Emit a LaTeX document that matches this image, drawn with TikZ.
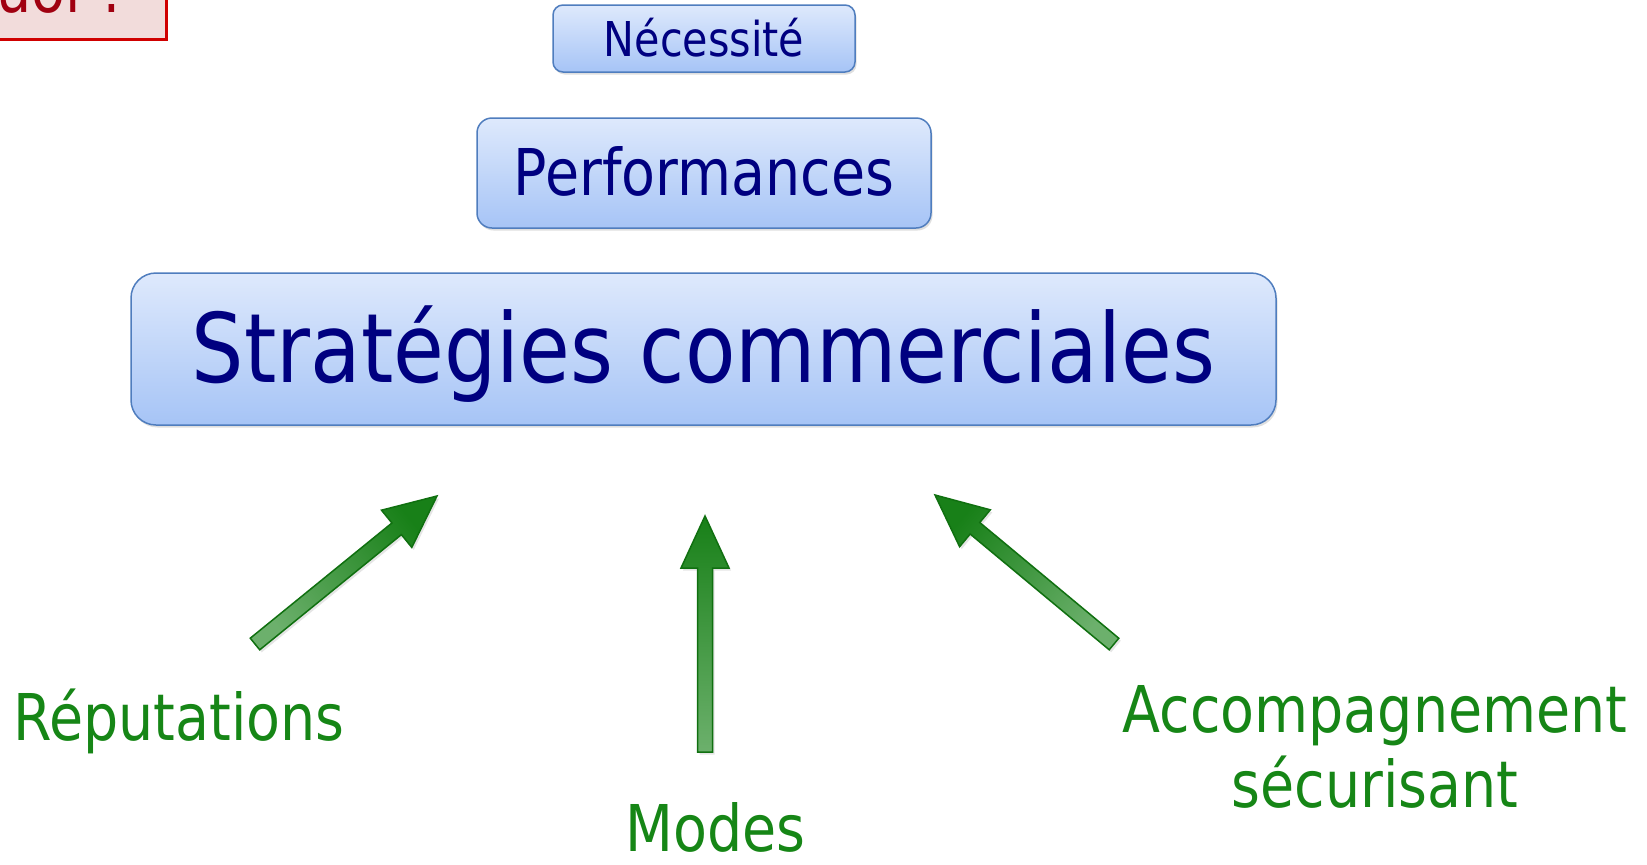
\documentclass[tikz,border=0pt]{standalone}
\usepackage{fontspec}
\setmainfont{DejaVu Sans}[FakeStretch=0.86]
\usetikzlibrary{calc,shadows}
\definecolor{navy}{RGB}{0,0,128}
\definecolor{boxtop}{RGB}{222,233,252}
\definecolor{boxbot}{RGB}{166,196,246}
\definecolor{boxline}{RGB}{79,125,190}
\definecolor{lblgreen}{RGB}{22,134,22}
\definecolor{arrdark}{RGB}{24,128,24}
\definecolor{arrlight}{RGB}{108,176,108}
\definecolor{arrline}{RGB}{16,112,16}
\definecolor{titlefill}{RGB}{242,220,219}
\definecolor{titleline}{RGB}{208,0,0}
\definecolor{titletext}{RGB}{160,0,16}
\tikzset{
  bluebox/.style={draw=boxline, line width=1.5pt, top color=boxtop, bottom color=boxbot,
    text=navy, inner sep=0pt,
    drop shadow={opacity=0.25, shadow xshift=1.5pt, shadow yshift=-2.5pt}},
  lbl/.style={text=lblgreen, inner sep=0pt, font=\fontsize{64.5}{75}\selectfont},
  blockarr/.style={draw=arrline, line width=1.5pt, top color=arrdark, bottom color=arrlight,
    line join=miter, drop shadow={opacity=0.2, shadow xshift=2pt, shadow yshift=-2.5pt}},
  titlebox/.style={draw=titleline, fill=titlefill, line width=3pt},
}
\newcommand{\blockarrow}[3][]{%
  \coordinate (hb) at ($(#3)!52pt!(#2)$);
  \path[blockarr,#1] ($(#2)!7.5pt!90:(#3)$) -- ($(hb)!7.5pt!90:(#3)$) -- ($(hb)!24pt!90:(#3)$)
    -- (#3) -- ($(hb)!24pt!-90:(#3)$) -- ($(hb)!7.5pt!-90:(#3)$) -- ($(#2)!7.5pt!-90:(#3)$) -- cycle;}
\begin{document}
\begin{tikzpicture}[x=1pt,y=-1pt]
\useasboundingbox (0,0) rectangle (1647,865);
\clip (0,0) rectangle (1647,865);
\fill[white] (0,0) rectangle (1647,865);
% title box (mostly outside the frame)
\path[titlebox] (-200,-100) rectangle (166,39);
\node[font=\fontsize{64.5}{75}\selectfont, text=titletext, anchor=base east, inner sep=0pt] (title) at (128,12) {Pourquoi ?};
% blue boxes
\node[bluebox, minimum width=302pt, minimum height=67pt, rounded corners=10pt,
  font=\fontsize{48}{56}\selectfont, text height=35pt, text depth=0pt] (nec) at (704,38.5) {Nécessité};
\node[bluebox, minimum width=454pt, minimum height=110pt, rounded corners=15pt,
  font=\fontsize{64.5}{75}\selectfont, text height=47pt, text depth=3pt] (perf) at (704,173) {Performances};
\node[bluebox, minimum width=1145pt, minimum height=152pt, rounded corners=25pt,
  font=\fontsize{96}{110}\selectfont, text height=70pt, text depth=4pt] (strat) at (703.5,349) {Stratégies commerciales};
% labels
\node[lbl, anchor=base west] (rep) at (13,740) {Réputations};
\node[lbl, anchor=base west, text depth=0pt] (mod) at (625,851) {Modes};
\node[lbl, anchor=base] (acc) at (1375,732) {Accompagnement};
\node[lbl, anchor=base] (sec) at (1375,807) {sécurisant};
% arrows
\coordinate (lt) at (255,644); \coordinate (lh) at (437,496);
\coordinate (mt) at (705,752); \coordinate (mh) at (705,516);
\coordinate (rt) at (1114,644); \coordinate (rh) at (935,495);
\blockarrow[shading angle=-50.9]{lt}{lh}
\blockarrow{mt}{mh}
\blockarrow[shading angle=50.2]{rt}{rh}
\end{tikzpicture}
\end{document}
